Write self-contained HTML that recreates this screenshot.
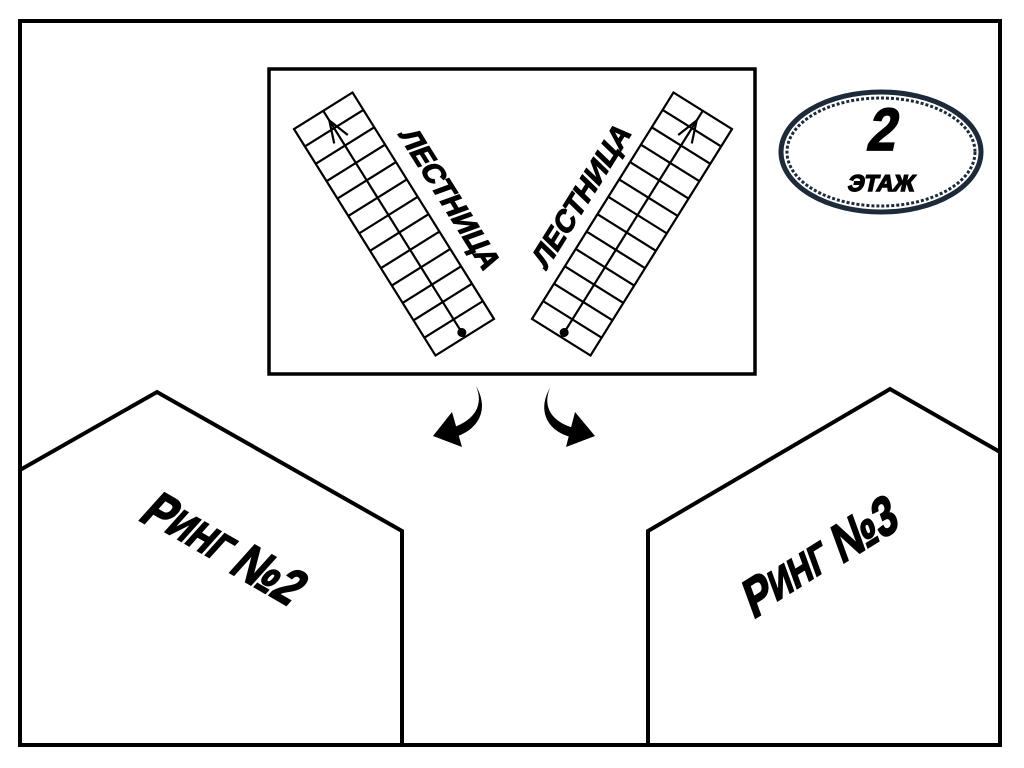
<!DOCTYPE html>
<html><head><meta charset="utf-8"><style>html,body{margin:0;padding:0;background:#fff}svg{display:block}</style></head>
<body>
<svg width="1024" height="768" viewBox="0 0 1024 768" xmlns="http://www.w3.org/2000/svg" font-family="'Liberation Sans', 'Noto Sans CJK SC', sans-serif">
<rect width="1024" height="768" fill="#fff"/>
<rect x="20" y="21" width="980" height="724" fill="none" stroke="#000" stroke-width="4"/>
<rect x="269" y="69" width="486" height="305" fill="none" stroke="#000" stroke-width="3.5"/>
<polyline points="20,470 157,392 402,531 402,745" fill="none" stroke="#000" stroke-width="4"/>
<polyline points="648,745 648,531 890,389 1000,452" fill="none" stroke="#000" stroke-width="4"/>
<!-- left stair -->
<g transform="translate(394,224) rotate(-32)" stroke="#000" stroke-width="2.2" fill="none">
<rect x="-34.5" y="-133.5" width="69" height="267"/>
<line x1="0" y1="-133.5" x2="0" y2="133.5"/>
<g id="steps">
<line x1="-34.5" y1="-113" x2="34.5" y2="-113"/><line x1="-34.5" y1="-92.5" x2="34.5" y2="-92.5"/>
<line x1="-34.5" y1="-72" x2="34.5" y2="-72"/><line x1="-34.5" y1="-51.5" x2="34.5" y2="-51.5"/>
<line x1="-34.5" y1="-31" x2="34.5" y2="-31"/><line x1="-34.5" y1="-10.5" x2="34.5" y2="-10.5"/>
<line x1="-34.5" y1="10" x2="34.5" y2="10"/><line x1="-34.5" y1="30.5" x2="34.5" y2="30.5"/>
<line x1="-34.5" y1="51" x2="34.5" y2="51"/><line x1="-34.5" y1="71.5" x2="34.5" y2="71.5"/>
<line x1="-34.5" y1="92" x2="34.5" y2="92"/><line x1="-34.5" y1="112.5" x2="34.5" y2="112.5"/>
</g>
<polyline points="-8,-100 0,-122 8,-100"/>
<circle cx="0" cy="128" r="4.5" fill="#000" stroke="none"/>
</g>
<!-- right stair -->
<g transform="translate(632,224) rotate(32)" stroke="#000" stroke-width="2.2" fill="none">
<rect x="-34.5" y="-133.5" width="69" height="267"/>
<line x1="0" y1="-133.5" x2="0" y2="133.5"/>
<use href="#steps"/>
<polyline points="-8,-100 0,-122 8,-100"/>
<circle cx="0" cy="128" r="4.5" fill="#000" stroke="none"/>
</g>
<g font-weight="bold" stroke="#000" stroke-width="1.2">
<text transform="translate(448,200) rotate(58) skewX(-12)" font-size="29" text-anchor="middle" dominant-baseline="middle">ЛЕСТНИЦА</text>
<text transform="translate(583,197) rotate(-58) skewX(-12)" font-size="29" text-anchor="middle" dominant-baseline="middle">ЛЕСТНИЦА</text>
</g>
<!-- arrows -->
<path d="M476,386 C484,405 475,420 452,428 L455,437 C478,430 490,410 476,386 Z" fill="#000"/>
<polygon points="433,436 452,412 462,447" fill="#000"/>
<path d="M550,388 C542,407 552,422 574,428 L571,437 C547,431 537,410 550,388 Z" fill="#000"/>
<polygon points="595,436 575,412 566,447" fill="#000"/>
<!-- oval -->
<ellipse cx="881" cy="152" rx="100" ry="60" fill="#fff" stroke="#1c2a3a" stroke-width="5"/>
<ellipse cx="881" cy="152" rx="94" ry="54" fill="none" stroke="#1c2a3a" stroke-width="3" stroke-dasharray="3 2"/>
<g font-weight="bold" stroke="#000" stroke-width="1.5" text-anchor="middle">
<text transform="translate(880,150) skewX(-12) scale(1,1.15)" font-size="52">2</text>
<text transform="translate(880,191) skewX(-12)" font-size="23">ЭТАЖ</text>
</g>
<!-- ring labels -->
<g font-weight="bold" stroke="#000" stroke-width="1.5" text-anchor="middle" dominant-baseline="middle">
<text transform="translate(222,552) rotate(30) skewX(-12) scale(0.95,1.2)" font-size="44">Р<tspan font-size="34">ИНГ</tspan> №2</text>
<text transform="translate(822,560) rotate(-32) skewX(-12) scale(0.95,1.2)" font-size="44">Р<tspan font-size="34">ИНГ</tspan> №3</text>
</g>
</svg>
</body></html>
